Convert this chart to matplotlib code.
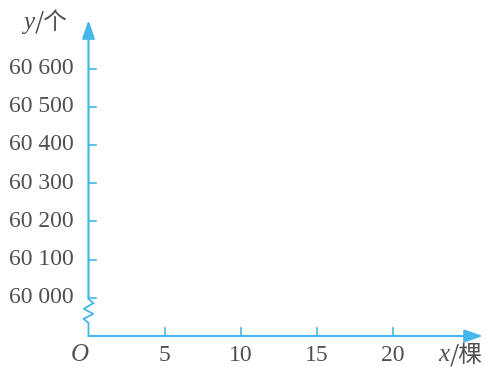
import matplotlib.pyplot as plt

# axis values
x_ticks = [5, 10, 15, 20]
y_ticks = [60000, 60100, 60200, 60300, 60400, 60500, 60600]
y_tick_labels = ["60 000", "60 100", "60 200", "60 300", "60 400", "60 500", "60 600"]
y_base = 60000   # value drawn right above the axis break
y_step = 100

blue = "#45b7ea"
grey = "#505050"
serif = ["Liberation Serif", "DejaVu Serif"]
cjk = ["Noto Sans CJK SC", "DejaVu Sans"]
fs = 17


def ypos(v):
    # one step above the origin for 60 000 (the axis is broken below it)
    return 1 + (v - y_base) / y_step


fig = plt.figure(figsize=(4.86, 3.67), dpi=100)
ax = fig.add_axes([0, 0, 1, 1])
ax.set_xlim(-88.5 / 15.23, (486 - 88.5) / 15.23)
ax.set_ylim(-31 / 38.2, (367 - 31) / 38.2)
ax.axis("off")

# axes with arrows
head = "-|>,head_length=1.1,head_width=0.38"
ax.annotate("", xy=(25.9, 0), xytext=(0, 0),
            arrowprops=dict(arrowstyle=head, color=blue, lw=1.6, shrinkA=0, shrinkB=0))
ax.annotate("", xy=(0, 8.27), xytext=(0, 1.0),
            arrowprops=dict(arrowstyle=head, color=blue, lw=1.6, shrinkA=0, shrinkB=0))

# axis break zigzag between 0 and 60 000
zx = [0, 0, 0.32, -0.32, 0.32, -0.32, 0, 0]
zy = [1.0, 0.97, 0.86, 0.71, 0.58, 0.45, 0.34, 0]
ax.plot(zx, zy, color=blue, lw=1.3, solid_joinstyle="miter")

# ticks
for v, lab in zip(y_ticks, y_tick_labels):
    ax.plot([0, 0.5], [ypos(v), ypos(v)], color=blue, lw=1.2)
    ax.text(-1.0, ypos(v), lab, ha="right", va="center", fontsize=fs,
            family=serif, color=grey)
for v in x_ticks:
    ax.plot([v, v], [0, 0.21], color=blue, lw=1.2)
    ax.text(v, -0.5, str(v), ha="center", va="center", fontsize=fs,
            family=serif, color=grey)

ax.text(-0.6, -0.5, "O", ha="center", va="center", fontsize=fs + 1,
        family=serif, style="italic", color=grey)

# axis names
ax.text(-3.55, 8.2, "y", ha="right", va="center", fontsize=fs + 1,
        family=serif, style="italic", color=grey)
ax.text(-3.55, 8.2, "/个", ha="left", va="center", fontsize=fs,
        family=cjk, color=grey)
ax.text(23.7, -0.5, "x", ha="right", va="center", fontsize=fs + 1,
        family=serif, style="italic", color=grey)
ax.text(23.7, -0.5, "/棵", ha="left", va="center", fontsize=fs,
        family=cjk, color=grey)

fig.savefig("out.png", dpi=100)
